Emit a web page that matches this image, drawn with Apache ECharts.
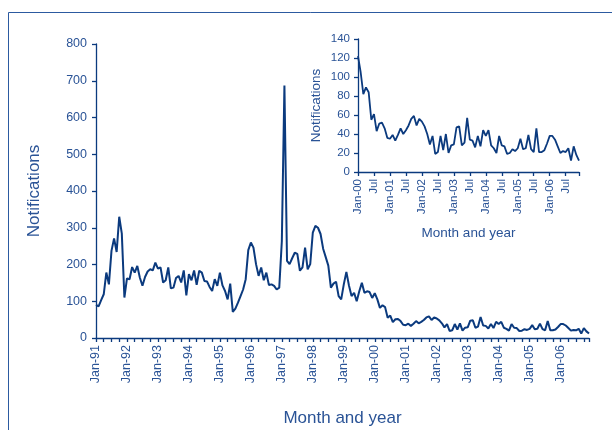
<!DOCTYPE html>
<html>
<head>
<meta charset="utf-8">
<script src="https://cdn.jsdelivr.net/npm/echarts@6/dist/echarts.min.js"></script>
<style>
  html, body { margin: 0; padding: 0; background: #ffffff; }
  #chart { width: 612px; height: 430px; }
</style>
</head>
<body>
<div id="chart"></div>
<script>
// Monthly notifications, January 1991 to December 2006
const monthNames = ['Jan', 'Feb', 'Mar', 'Apr', 'May', 'Jun', 'Jul', 'Aug', 'Sep', 'Oct', 'Nov', 'Dec'];
const firstYear = 1991;
const lastYear = 2006;
const insetFirstYear = 2000;

// 1991 - 1999
const notifications1991to1999 = [
  90, 86, 103, 119, 178, 146, 237, 271, 234, 330, 284, 110,
  162, 160, 193, 178, 196, 164, 142, 166, 181, 187, 184, 205,
  189, 192, 151, 157, 192, 135, 137, 163, 169, 151, 184, 116,
  174, 157, 184, 145, 183, 178, 155, 154, 139, 128, 160, 142,
  178, 143, 128, 105, 148, 71, 80, 96, 114, 132, 160, 239,
  260, 246, 201, 169, 192, 157, 178, 144, 146, 142, 132, 137,
  264, 687, 210, 201, 217, 232, 229, 183, 192, 246, 187, 201,
  287, 305, 300, 283, 243, 220, 197, 137, 148, 153, 114, 105,
  146, 180, 143, 114, 123, 100, 127, 150, 123, 127, 125, 109
];

// 2000 - 2006 (also shown enlarged in the inset)
const notifications2000to2006 = [
  122, 105, 82, 89, 84, 55, 61, 43, 51, 52, 46, 36,
  35, 39, 33, 39, 46, 40, 44, 49, 56, 59, 49, 56,
  53, 48, 40, 29, 38, 19, 21, 38, 23, 40, 20, 28,
  29, 47, 48, 28, 31, 57, 34, 33, 26, 38, 27, 44,
  38, 44, 28, 25, 20, 38, 28, 27, 19, 20, 24, 22,
  25, 35, 24, 25, 39, 24, 21, 46, 21, 21, 23, 30,
  38, 38, 34, 27, 20, 22, 21, 25, 12, 27, 18, 12
];

const mainYTicks = { min: 0, max: 800, interval: 100 };
const insetYTicks = { min: 0, max: 140, interval: 20 };

function monthLabels(fromYear, toYear) {
  const out = [];
  for (let y = fromYear; y <= toYear; y++) {
    const yy = String(y % 100).padStart(2, '0');
    monthNames.forEach(m => out.push(m + '-' + yy));
  }
  return out;
}

const mainCategories = monthLabels(firstYear, lastYear);
const insetCategories = monthLabels(insetFirstYear, lastYear);
const mainValues = notifications1991to1999.concat(notifications2000to2006);

const navy = '#0b3a7e';
const textBlue = '#2a5396';
const fontFamily = '"Liberation Sans", Arial, sans-serif';

const chart = echarts.init(document.getElementById('chart'), null, { renderer: 'canvas' });

const axisLineStyle = { show: true, lineStyle: { color: navy, width: 1.3 } };

chart.setOption({
  animation: false,
  backgroundColor: '#ffffff',
  textStyle: { fontFamily: fontFamily },
  graphic: [{
    type: 'rect',
    shape: { x: 8.5, y: 12.5, width: 800, height: 600 },
    style: { fill: 'none', stroke: '#2c5aa0', lineWidth: 1 },
    silent: true
  }],
  grid: [
    { left: 96, top: 44, right: 23, bottom: 92, containLabel: false, outerBoundsMode: 'none' },
    { left: 358, top: 39, right: 33, bottom: 258, containLabel: false, outerBoundsMode: 'none' }
  ],
  xAxis: [{
    type: 'category',
    gridIndex: 0,
    data: mainCategories,
    boundaryGap: false,
    name: 'Month and year',
    nameLocation: 'middle',
    nameGap: 72,
    nameTextStyle: { color: textBlue, fontSize: 17, fontFamily: fontFamily },
    axisLine: axisLineStyle,
    axisTick: { show: true, length: 4, inside: false, interval: (i) => i % 3 === 0 || i === mainCategories.length - 1, lineStyle: { color: navy, width: 1.3 } },
    axisLabel: {
      rotate: 90, margin: 7, fontSize: 12.5, color: textBlue, fontFamily: fontFamily,
      interval: (i, v) => v.startsWith('Jan')
    },
    splitLine: { show: false }
  }, {
    type: 'category',
    gridIndex: 1,
    data: insetCategories,
    boundaryGap: false,
    name: 'Month and year',
    nameLocation: 'middle',
    nameGap: 54,
    nameTextStyle: { color: textBlue, fontSize: 13.5, fontFamily: fontFamily },
    axisLine: axisLineStyle,
    axisTick: { show: true, length: 4, interval: (i) => i % 6 === 0 || i === insetCategories.length - 1, lineStyle: { color: navy, width: 1.3 } },
    axisLabel: {
      rotate: 90, margin: 7, fontSize: 11.5, color: textBlue, fontFamily: fontFamily,
      interval: (i) => i % 6 === 0,
      formatter: (v) => v.startsWith('Jan') ? v : v.slice(0, 3)
    },
    splitLine: { show: false }
  }],
  yAxis: [{
    type: 'value',
    gridIndex: 0,
    min: mainYTicks.min, max: mainYTicks.max, interval: mainYTicks.interval,
    name: 'Notifications',
    nameLocation: 'middle',
    nameGap: 53,
    nameRotate: 90,
    nameTextStyle: { color: textBlue, fontSize: 17, fontFamily: fontFamily },
    axisLine: axisLineStyle,
    axisTick: { show: true, length: 4, lineStyle: { color: navy, width: 1.3 } },
    axisLabel: { margin: 9, fontSize: 12.5, color: textBlue, fontFamily: fontFamily },
    splitLine: { show: false }
  }, {
    type: 'value',
    gridIndex: 1,
    min: insetYTicks.min, max: insetYTicks.max, interval: insetYTicks.interval,
    name: 'Notifications',
    nameLocation: 'middle',
    nameGap: 35,
    nameRotate: 90,
    nameTextStyle: { color: textBlue, fontSize: 13.5, fontFamily: fontFamily },
    axisLine: axisLineStyle,
    axisTick: { show: true, length: 4, lineStyle: { color: navy, width: 1.3 } },
    axisLabel: { margin: 8, fontSize: 11.5, color: textBlue, fontFamily: fontFamily },
    splitLine: { show: false }
  }],
  series: [{
    type: 'line',
    xAxisIndex: 0, yAxisIndex: 0,
    data: mainValues,
    symbol: 'none',
    lineStyle: { color: navy, width: 2 },
    z: 3
  }, {
    type: 'line',
    xAxisIndex: 1, yAxisIndex: 1,
    data: notifications2000to2006,
    symbol: 'none',
    lineStyle: { color: navy, width: 1.8 },
    z: 3
  }]
});
</script>
</body>
</html>
